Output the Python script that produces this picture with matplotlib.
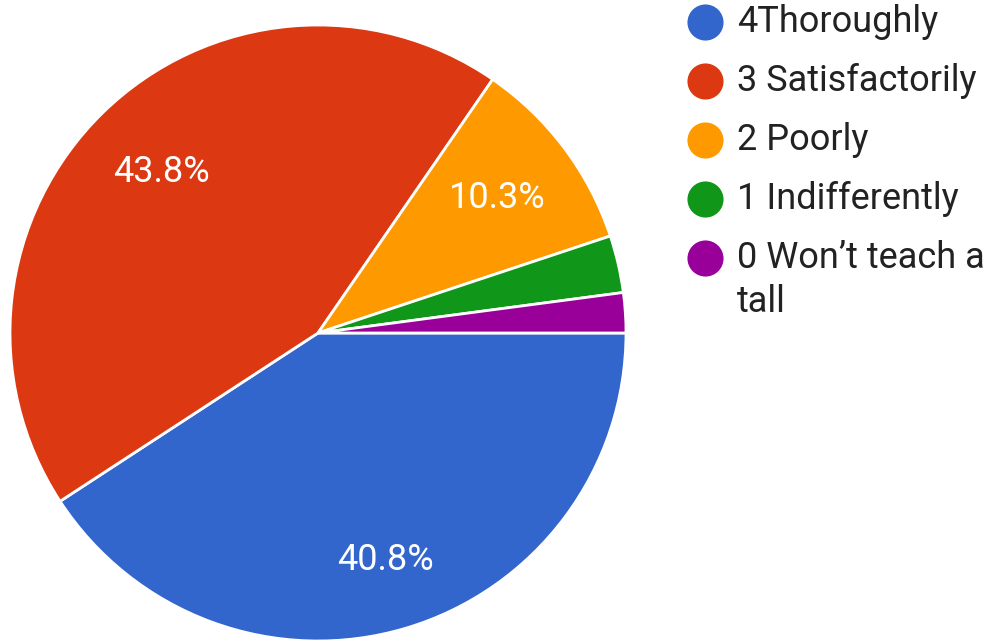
import matplotlib
matplotlib.use('Agg')
import matplotlib.pyplot as plt
import numpy as np

plt.rcParams['font.family'] = ['Roboto', 'DejaVu Sans']

# данные с картинки (проценты)
labels = ['4Thoroughly', '3 Satisfactorily', '2 Poorly', '1 Indifferently',
          '0 Won\u2019t teach a\ntall']
values = [40.8, 43.8, 10.3, 3.0, 2.1]
colors = ['#3366CC', '#DC3912', '#FF9900', '#109618', '#990099']


def pct_label(p):
    # маленькие сектора без подписи
    return '%.1f%%' % p if p > 5 else ''


fig = plt.figure(figsize=(9.9, 6.41), dpi=100)

# pie: центр примерно (318, 333) px, радиус ~308 px
ax = fig.add_axes([10 / 990, 0, 616 / 990, 616 / 641])
wedges, texts, autotexts = ax.pie(values, colors=colors, startangle=0,
                                  counterclock=False, autopct=pct_label,
                                  pctdistance=0.73,
                                  wedgeprops=dict(edgecolor='white', linewidth=2),
                                  textprops=dict(color='white', fontsize=26))
# подпись синего сектора у гугла чуть дальше от центра
w = wedges[0]
a = np.deg2rad((w.theta1 + w.theta2) / 2)
autotexts[0].set_position((0.77 * np.cos(a), 0.77 * np.sin(a)))
ax.set_xlim(-1, 1)
ax.set_ylim(-1, 1)
ax.set_aspect('equal')

# легенда вручную
lax = fig.add_axes([0, 0, 1, 1])
lax.set_xlim(0, 990)
lax.set_ylim(641, 0)
lax.axis('off')
y0 = 22
step = 59
for i in range(len(labels)):
    y = y0 + i * step
    lax.plot(705, y, 'o', ms=26, color=colors[i], mec='none')
    for j, line in enumerate(labels[i].split('\n')):
        lax.text(737, y + j * 44, line, fontsize=26, color='#222222', va='center')

fig.savefig('out.png', dpi=100)
